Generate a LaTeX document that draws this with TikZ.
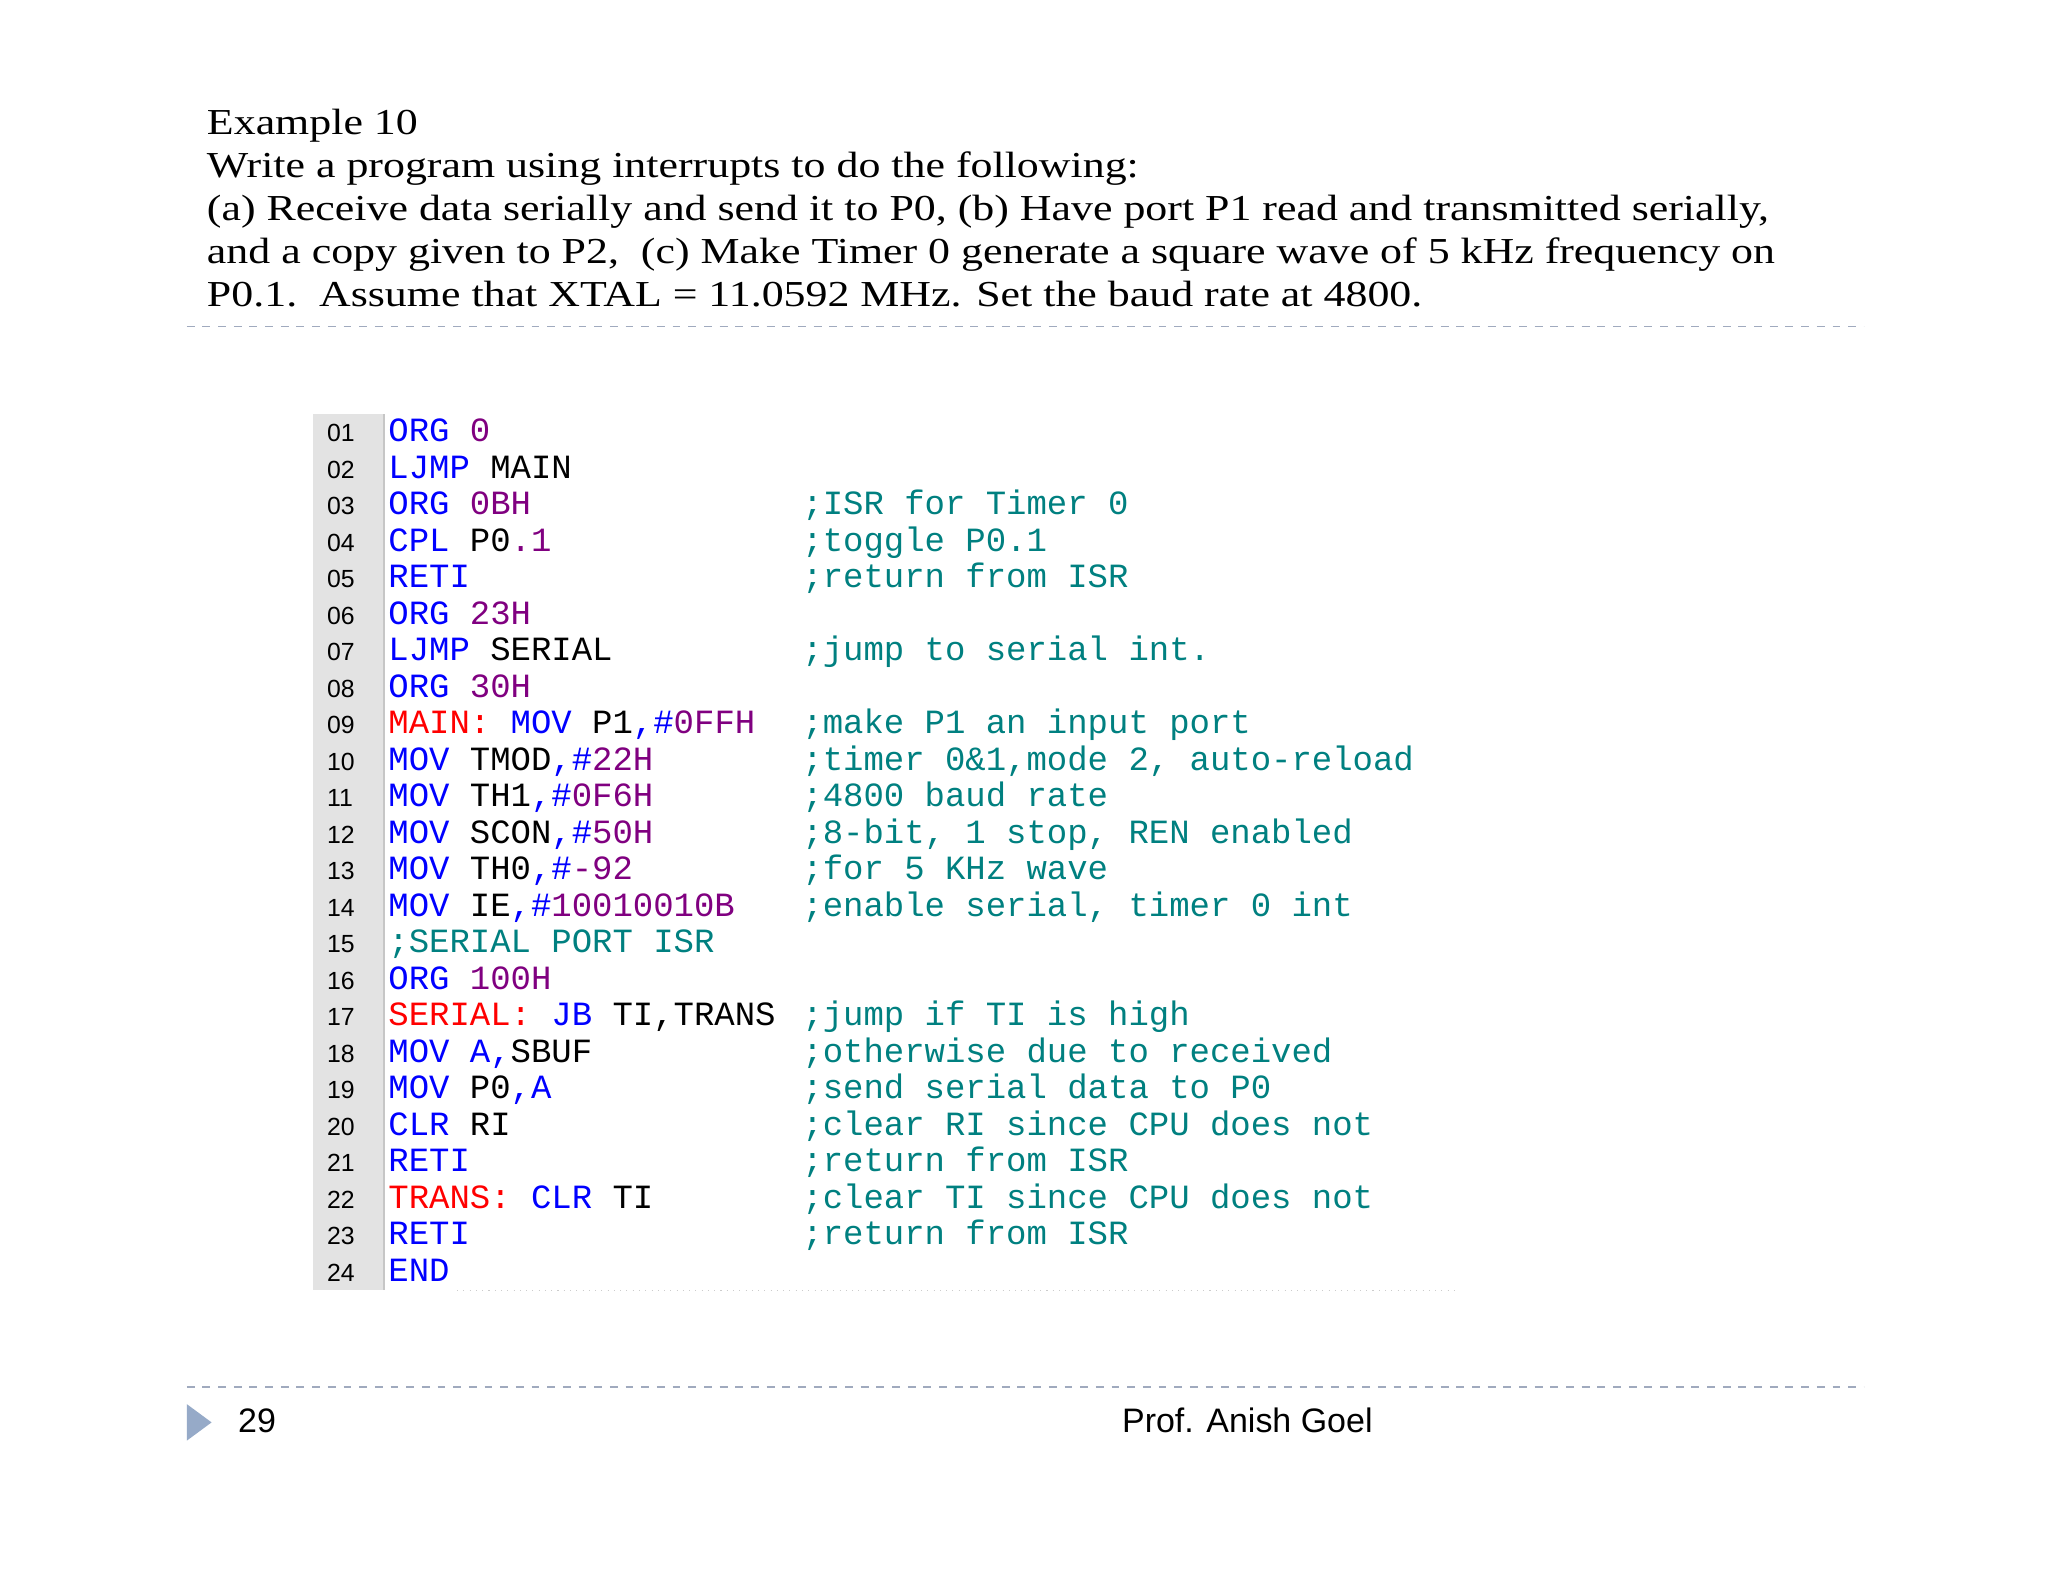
\documentclass[tikz,border=0pt]{standalone}
\usepackage{fontspec}
\setmainfont{Liberation Serif}
\newfontfamily\codefont{Liberation Mono}
\newfontfamily\sansf{Liberation Sans}
\definecolor{kw}{RGB}{0,0,255}
\definecolor{nm}{RGB}{128,0,128}
\definecolor{lb}{RGB}{255,0,0}
\definecolor{cm}{RGB}{0,128,128}
\definecolor{tri}{RGB}{150,170,200}
\definecolor{dashcol}{RGB}{160,170,190}
\newcommand\K[1]{\textcolor{kw}{#1}}
\newcommand\N[1]{\textcolor{nm}{#1}}
\newcommand\Lb[1]{\textcolor{lb}{#1}}
\newcommand\C[1]{\textcolor{cm}{#1}}
\begin{document}
\begin{tikzpicture}[x=0.5pt,y=-0.5pt,
  title/.style={anchor=base west,inner sep=0,xscale=1.2,font=\fontsize{14}{14}\selectfont},
  code/.style={anchor=base west,inner sep=0,font=\codefont\fontsize{13}{13}\selectfont},
  lnum/.style={anchor=base west,inner sep=0,font=\sansf\fontsize{9.5}{9.5}\selectfont}]
\useasboundingbox[fill=white] (0,0) rectangle (1568,1211);
\node[title] (t1) at (158,103) {Example 10};
\node[title] (t2) at (158,136) {Write a program using interrupts to do the following:};
\node[title] (t3) at (158,169) {(a) Receive data serially and send it to P0, (b) Have port P1 read and transmitted serially,};
\node[title] (t4) at (158,202) {and a copy given to P2,\ \ (c) Make Timer 0 generate a square wave of 5 kHz frequency on};
\node[title] (t5) at (158,235) {P0.1.\ \ Assume that XTAL = 11.0592 MHz. Set the baud rate at 4800.};
\draw[dashcol,dashed,line width=0.6pt] (143,250) -- (1427,250);
\draw[dashcol,dashed,line width=0.6pt] (143,1062) -- (1427,1062);
\fill[gray!22] (240,317) rectangle (295,988);
\draw[gray!45,line width=1pt] (294,317) -- (294,988);
\draw[gray!40,dotted] (350,988) -- (1115,988);
\foreach \i [count=\n] in {01,02,03,04,05,06,07,08,09,10,11,12,13,14,15,16,17,18,19,20,21,22,23,24}
  \node[lnum] (n\i) at (250,{330+(\n-1)*27.96+8}) {\i};
\def\L#1#2{\node[code] (c#1) at (297,{330+(#1-1)*27.96+8}) {#2};}
\def\M#1#2{\node[code] (m#1) at (614,{330+(#1-1)*27.96+8}) {\C{#2}};}
\L{1}{\K{ORG} \N{0}}
\L{2}{\K{LJMP} MAIN}
\L{3}{\K{ORG} \N{0BH}}\M{3}{;ISR for Timer 0}
\L{4}{\K{CPL} P0\N{.1}}\M{4}{;toggle P0.1}
\L{5}{\K{RETI}}\M{5}{;return from ISR}
\L{6}{\K{ORG} \N{23H}}
\L{7}{\K{LJMP} SERIAL}\M{7}{;jump to serial int.}
\L{8}{\K{ORG} \N{30H}}
\L{9}{\Lb{MAIN:} \K{MOV} P1\K{,\#}\N{0FFH}}\M{9}{;make P1 an input port}
\L{10}{\K{MOV} TMOD\K{,\#}\N{22H}}\M{10}{;timer 0\&1,mode 2, auto-reload}
\L{11}{\K{MOV} TH1\K{,\#}\N{0F6H}}\M{11}{;4800 baud rate}
\L{12}{\K{MOV} SCON\K{,\#}\N{50H}}\M{12}{;8-bit, 1 stop, REN enabled}
\L{13}{\K{MOV} TH0\K{,\#}\N{-92}}\M{13}{;for 5 KHz wave}
\L{14}{\K{MOV} IE\K{,\#}\N{10010010B}}\M{14}{;enable serial, timer 0 int}
\L{15}{\C{;SERIAL PORT ISR}}
\L{16}{\K{ORG} \N{100H}}
\L{17}{\Lb{SERIAL:} \K{JB} TI,TRANS}\M{17}{;jump if TI is high}
\L{18}{\K{MOV} \K{A,}SBUF}\M{18}{;otherwise due to received}
\L{19}{\K{MOV} P0\K{,A}}\M{19}{;send serial data to P0}
\L{20}{\K{CLR} RI}\M{20}{;clear RI since CPU does not}
\L{21}{\K{RETI}}\M{21}{;return from ISR}
\L{22}{\Lb{TRANS:} \K{CLR} TI}\M{22}{;clear TI since CPU does not}
\L{23}{\K{RETI}}\M{23}{;return from ISR}
\L{24}{\K{END}}
\fill[tri] (143,1075) -- (162,1089) -- (143,1103) -- cycle;
\node[anchor=base west,inner sep=0,font=\sansf\fontsize{13}{13}\selectfont] (pg) at (182,1097) {29};
\node[anchor=base,inner sep=0,font=\sansf\fontsize{13}{13}\selectfont] (au) at (955,1097) {Prof. Anish Goel};
\end{tikzpicture}
\end{document}
